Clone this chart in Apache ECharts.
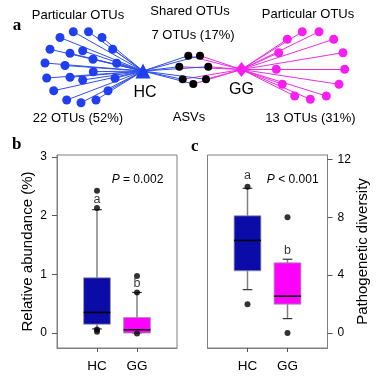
<!DOCTYPE html>
<html>
<head>
<meta charset="utf-8">
<style>
html, body { margin: 0; padding: 0; background: #fff; }
#chart { width: 377px; height: 376px; }
</style>
</head>
<body>
<div id="chart"></div>
<script src="https://cdn.jsdelivr.net/npm/echarts@6/dist/echarts.min.js"></script>
<script>
// panel a: network, node positions
const hcHub = [143, 71]
const ggHub = [241.5, 69.5]
const hcNodes = [
  [60, 37.5], [73.3, 31.7], [88.5, 31.7], [102, 37.5], [50, 49.3], [70, 53.3],
  [82.7, 50.8], [93, 59.3], [112.7, 49.3], [45, 63], [65, 65.5], [116.7, 63.3],
  [93.3, 71.7], [46.7, 78], [70, 77.3], [82.7, 80], [115, 78.3], [53.7, 90.7],
  [108, 90.7], [66.7, 100], [81, 102.7], [96, 100]
]
const sharedNodes = [
  [188.3, 55.7], [200, 55.7], [179.3, 66.7], [208.3, 66.7], [182.7, 79.3],
  [193.3, 84], [206, 79.3]
]
const ggNodes = [
  [287.3, 39.3], [302.3, 31.7], [319, 31.7], [333.7, 39.3], [278.7, 52.7],
  [343, 52.7], [276.3, 69.3], [344.7, 69.3], [282.3, 84.3], [339, 84.3],
  [294.7, 96], [310.3, 99.3], [326.3, 96]
]

// panels b and c: [group, min, Q1, median, Q3, max]
const groups = ['HC', 'GG']
const abundanceBox = [[1, 0.07, 0.15, 0.35, 0.94, 2.1], [2, 0, 0, 0.055, 0.265, 0.69]]
const abundanceOut = [[1, 2.42], [1, 2.13], [1, 0.06], [1, 0.02], [2, 0.97], [2, 0.69], [2, -0.01]]
const abundanceTicks = [0, 1, 2, 3]
const abundanceSig = [[1, 2.28, 'a'], [2, 0.84, 'b']]
const diversityBox = [[1, 3, 4.3, 6.4, 8.1, 10], [2, 1, 2, 2.55, 4.85, 5.1]]
const diversityOut = [[1, 10.1], [1, 2], [2, 8], [2, 0]]
const diversityTicks = [0, 4, 8, 12]
const diversitySig = [[1, 10.9, 'a'], [2, 5.7, 'b']]

const FONT = '"Liberation Sans", Arial, sans-serif'
const SERIF = '"Liberation Serif", "Times New Roman", serif'
const boxColors = ['#0b0ba8', '#ff00ff']
const blue = '#1f3ff0'
const pink = '#f81ef0'

function buildGraph () {
  const nodes = []
  const links = []
  nodes.push({ name: 'HC', value: hcHub, symbol: 'triangle', symbolSize: 15, itemStyle: { color: blue },
    label: { show: true, position: 'bottom', distance: 6, offset: [2, 0], fontSize: 16, color: '#000', fontFamily: FONT } })
  nodes.push({ name: 'GG', value: ggHub, symbol: 'diamond', symbolSize: [12, 15], itemStyle: { color: pink },
    label: { show: true, position: 'bottom', distance: 5, fontSize: 16, color: '#000', fontFamily: FONT } })
  hcNodes.forEach((p, i) => {
    nodes.push({ name: 'h' + i, value: p, symbolSize: 9, itemStyle: { color: blue } })
    links.push({ source: 'HC', target: 'h' + i, lineStyle: { color: '#3050e8' } })
  })
  ggNodes.forEach((p, i) => {
    nodes.push({ name: 'g' + i, value: p, symbolSize: 9, itemStyle: { color: pink } })
    links.push({ source: 'GG', target: 'g' + i, lineStyle: { color: '#e830e0' } })
  })
  sharedNodes.forEach((p, i) => {
    nodes.push({ name: 's' + i, value: p, symbolSize: 8, itemStyle: { color: '#000' } })
    links.push({ source: 'HC', target: 's' + i, lineStyle: { color: '#3050e8' } })
    links.push({ source: 'GG', target: 's' + i, lineStyle: { color: '#e830e0' } })
  })
  return { nodes, links }
}

function renderBox (params, api) {
  const x = api.value(0)
  const lo = api.coord([x, api.value(1)])
  const q1 = api.coord([x, api.value(2)])
  const md = api.coord([x, api.value(3)])
  const q3 = api.coord([x, api.value(4)])
  const hi = api.coord([x, api.value(5)])
  const band = api.size([1, 0])[0]
  const bw = band * 0.67
  const cw = band * 0.24
  const cx = lo[0]
  const gray = '#808080'
  return {
    type: 'group',
    children: [
      { type: 'line', shape: { x1: cx, y1: hi[1], x2: cx, y2: lo[1] }, style: { stroke: gray, lineWidth: 1.5 } },
      { type: 'line', shape: { x1: cx - cw / 2, y1: hi[1], x2: cx + cw / 2, y2: hi[1] }, style: { stroke: '#333', lineWidth: 1.2 } },
      { type: 'line', shape: { x1: cx - cw / 2, y1: lo[1], x2: cx + cw / 2, y2: lo[1] }, style: { stroke: '#333', lineWidth: 1.2 } },
      { type: 'rect', shape: { x: cx - bw / 2, y: q3[1], width: bw, height: q1[1] - q3[1] },
        style: { fill: boxColors[params.dataIndex], stroke: '#9a9aa8', lineWidth: 0.8 } },
      { type: 'line', shape: { x1: cx - bw / 2, y1: md[1], x2: cx + bw / 2, y2: md[1] }, style: { stroke: '#000', lineWidth: 1.5 } }
    ]
  }
}

function panelAxes (gridIndex, ticks, min, max, pos, name, gap) {
  const x = {
    type: 'value', gridIndex, min: 0, max: 3,
    axisLine: { onZero: false, lineStyle: { color: '#808080' } },
    splitLine: { show: false },
    axisTick: { customValues: [1, 2], length: 4, lineStyle: { color: '#555' } },
    axisLabel: { customValues: [1, 2], formatter: v => groups[v - 1], fontSize: 13.5, color: '#000', fontFamily: FONT, margin: 11 }
  }
  const y = {
    type: 'value', gridIndex, min, max, position: pos,
    axisLine: { show: true, onZero: false, lineStyle: { color: '#808080' } },
    splitLine: { show: false },
    axisTick: { show: true, customValues: ticks, length: 5, lineStyle: { color: '#555' } },
    axisLabel: { customValues: ticks, fontSize: 12, color: '#000', fontFamily: FONT, margin: 10 },
    name, nameLocation: 'middle', nameRotate: 90, nameGap: gap,
    nameTextStyle: { fontSize: 15, color: '#000', fontFamily: FONT }
  }
  return { x, y }
}

const b = panelAxes(1, abundanceTicks, -0.255, 3.03, 'left', 'Relative abundance (%)', 22)
const c = panelAxes(2, diversityTicks, -1.03, 12.3, 'right', 'Pathogenetic diversity', 28)
const graph = buildGraph()

function txt (x, y, text, size, extra) {
  return { type: 'text', x, y, style: Object.assign({ text, align: 'center', verticalAlign: 'middle', fontSize: size, fontFamily: FONT, fill: '#000' }, extra || {}) }
}
function pText (x, y, text) {
  return { type: 'text', x, y, style: { text: '{i|P}' + text, align: 'center', verticalAlign: 'middle', fontSize: 12, fontFamily: FONT, fill: '#000',
    rich: { i: { fontStyle: 'italic', fontSize: 12, fontFamily: FONT } } } }
}

const chart = echarts.init(document.getElementById('chart'), null, { renderer: 'canvas' })
chart.setOption({
  animation: false,
  backgroundColor: '#fff',
  grid: [
    { left: 0, top: 0, width: 377, height: 130 },
    { left: 57, top: 155, width: 120, height: 193, show: true, borderColor: '#808080', borderWidth: 1 },
    { left: 207.5, top: 155, width: 120, height: 193, show: true, borderColor: '#808080', borderWidth: 1 }
  ],
  xAxis: [
    { type: 'value', gridIndex: 0, min: 0, max: 377, show: false },
    b.x, c.x
  ],
  yAxis: [
    { type: 'value', gridIndex: 0, min: 0, max: 130, inverse: true, show: false },
    b.y, c.y
  ],
  series: [
    {
      type: 'graph', coordinateSystem: 'cartesian2d', xAxisIndex: 0, yAxisIndex: 0,
      data: graph.nodes, links: graph.links, symbol: 'circle',
      lineStyle: { width: 1, opacity: 1 }, label: { show: false }, silent: true
    },
    { type: 'custom', xAxisIndex: 1, yAxisIndex: 1, renderItem: renderBox, data: abundanceBox, z: 3 },
    { type: 'custom', xAxisIndex: 2, yAxisIndex: 2, renderItem: renderBox, data: diversityBox, z: 3 },
    { type: 'scatter', xAxisIndex: 1, yAxisIndex: 1, data: abundanceOut, symbolSize: 6, itemStyle: { color: '#000' }, z: 4 },
    { type: 'scatter', xAxisIndex: 2, yAxisIndex: 2, data: diversityOut, symbolSize: 6, itemStyle: { color: '#000' }, z: 4 },
    { type: 'scatter', xAxisIndex: 1, yAxisIndex: 1, data: abundanceSig, symbolSize: 0,
      label: { show: true, position: 'inside', formatter: p => p.value[2], fontSize: 12.5, color: '#000', fontFamily: FONT } },
    { type: 'scatter', xAxisIndex: 2, yAxisIndex: 2, data: diversitySig, symbolSize: 0,
      label: { show: true, position: 'inside', formatter: p => p.value[2], fontSize: 12.5, color: '#000', fontFamily: FONT } }
  ],
  graphic: [
    txt(17, 26, 'a', 17, { fontFamily: SERIF, fontWeight: 'bold' }),
    txt(16.7, 145, 'b', 17, { fontFamily: SERIF, fontWeight: 'bold' }),
    txt(194.7, 146.5, 'c', 17, { fontFamily: SERIF, fontWeight: 'bold' }),
    txt(78, 15, 'Particular OTUs', 13),
    txt(78, 118, '22 OTUs (52%)', 13),
    txt(190, 11, 'Shared OTUs', 13),
    txt(193, 35, '7 OTUs (17%)', 13),
    txt(189, 117, 'ASVs', 13),
    txt(308, 14, 'Particular OTUs', 13),
    txt(310.5, 118, '13 OTUs (31%)', 13),
    pText(137.5, 180, ' = 0.002'),
    pText(292.7, 180, ' < 0.001')
  ]
})
</script>
</body>
</html>
